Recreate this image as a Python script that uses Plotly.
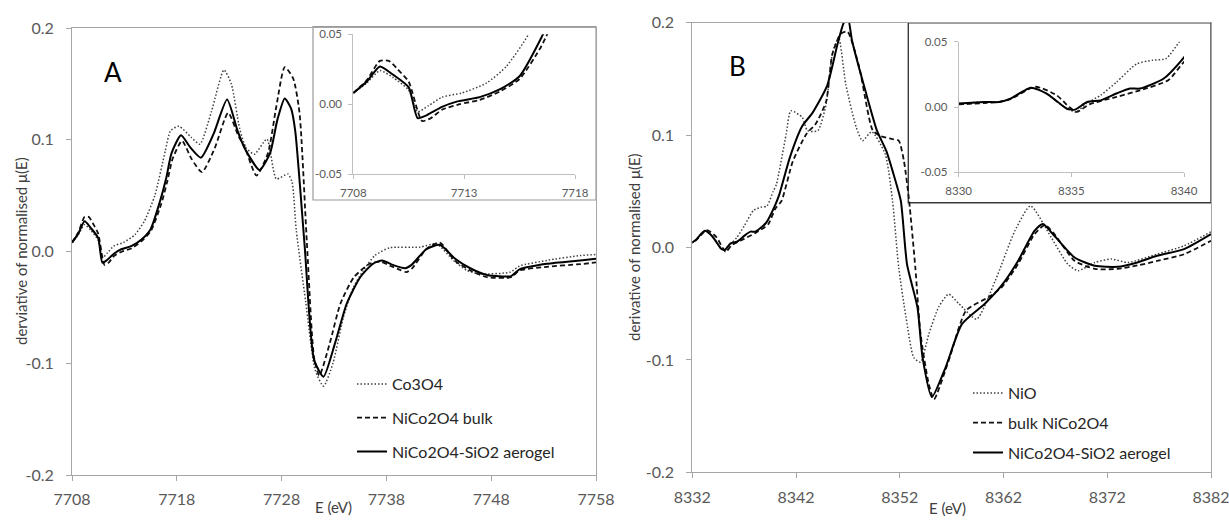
import plotly.graph_objects as go

# ---------------- Panel A data (Co K-edge) ----------------
A_co3o4_E = [7708, 7708.6, 7709.2, 7709.8, 7710.5, 7710.9, 7711.4, 7712.0, 7712.9, 7714.0, 7714.9, 7715.9,
             7716.9, 7717.4, 7718.2, 7719.4, 7720.2, 7721.3, 7722.5, 7723.2, 7724.0, 7724.6, 7725.4, 7726.6,
             7727.5, 7728.6, 7729.0, 7729.4, 7730.3, 7731.2, 7732.0, 7732.9, 7733.9, 7734.85, 7735.8, 7736.9,
             7738.3, 7741.2, 7742.8, 7744.4, 7745.7, 7746.9, 7749.8, 7750.7, 7753.3, 7756.5, 7758]
A_co3o4_v = [0.008, 0.015, 0.024, 0.019, 0.010, -0.0055, -0.001, 0.005, 0.008, 0.015, 0.027, 0.050,
             0.090, 0.108, 0.112, 0.102, 0.096, 0.125, 0.1625, 0.150, 0.110, 0.093, 0.087, 0.1006,
             0.065, 0.0694, 0.062, 0.019, -0.045, -0.106, -0.1205, -0.100, -0.0587, -0.032, -0.017, -0.0036,
             0.0033, 0.0039, 0.0068, -0.008, -0.017, -0.020, -0.0185, -0.013, -0.008, -0.0036, -0.0027]

A_bulk_E = [7708, 7708.6, 7709.2, 7709.6, 7710.0, 7710.5, 7711.1, 7711.5, 7712.0, 7712.8, 7713.7, 7714.6,
            7715.5, 7716.5, 7717.1, 7717.6, 7718.5, 7719.4, 7720.4, 7721.6, 7722.9, 7723.9, 7724.5, 7725.6,
            7726.7, 7727.5, 7728.3, 7729.1, 7729.7, 7730.4, 7731.1, 7731.6, 7732.6, 7733.6, 7734.9, 7736.4,
            7737.4, 7738.4, 7739.3, 7739.9, 7740.5, 7741.8, 7743.1, 7744.5, 7746.0, 7747.6, 7749.9, 7750.7,
            7753.3, 7756.5, 7758]
A_bulk_v = [0.008, 0.017, 0.031, 0.031, 0.025, 0.016, -0.012, -0.010, -0.004, 0.000, 0.003, 0.009,
            0.018, 0.042, 0.063, 0.083, 0.099, 0.083, 0.071, 0.092, 0.124, 0.103, 0.093, 0.068,
            0.088, 0.130, 0.165, 0.155, 0.125, 0.010, -0.095, -0.111, -0.082, -0.047, -0.023, -0.011,
            -0.009, -0.013, -0.0164, -0.0185, -0.0146, 0.002, 0.008, -0.008, -0.017, -0.023, -0.023, -0.017,
            -0.0137, -0.0113, -0.0098]

A_aero_E = [7708, 7708.6, 7709.2, 7709.8, 7710.5, 7710.9, 7711.3, 7712.0, 7712.7, 7713.7, 7714.6, 7715.5,
            7716.4, 7717.0, 7717.5, 7718.4, 7719.3, 7720.3, 7721.5, 7722.8, 7723.8, 7724.5, 7725.9, 7726.9,
            7727.6, 7728.3, 7728.9, 7729.3, 7730.2, 7731.1, 7732.0, 7733.1, 7734.2, 7735.5, 7736.7, 7737.6,
            7738.6, 7739.8, 7740.4, 7741.8, 7743.1, 7744.5, 7746.0, 7747.6, 7749.9, 7750.7, 7753.3, 7756.5, 7758]
A_aero_v = [0.008, 0.016, 0.027, 0.021, 0.012, -0.010, -0.008, -0.002, 0.002, 0.005, 0.0105, 0.020,
            0.045, 0.066, 0.088, 0.104, 0.093, 0.084, 0.105, 0.136, 0.108, 0.092, 0.073, 0.088,
            0.118, 0.137, 0.128, 0.108, 0.005, -0.097, -0.112, -0.082, -0.047, -0.023, -0.011, -0.008,
            -0.012, -0.015, -0.012, 0.002, 0.006, -0.006, -0.015, -0.021, -0.022, -0.016, -0.011, -0.008, -0.0065]

# ---------------- Panel B data (Ni K-edge) ----------------
B_nio_E = [8330, 8331.1, 8331.8, 8332.3, 8333.2, 8333.9, 8334.4, 8334.8, 8335.2, 8335.7, 8336.3, 8337.0,
           8337.9, 8338.6, 8339.2, 8339.8, 8340.1, 8341.05, 8341.5, 8342.6, 8343.1, 8344.1, 8344.9, 8345.5,
           8346.1, 8346.8, 8347.8, 8348.4, 8349.3, 8350.6, 8351.3, 8351.9, 8352.6, 8353.35, 8354.0, 8354.8,
           8355.75, 8356.7, 8357.7, 8359.4, 8361.2, 8363.1, 8364.6, 8366.6, 8368.2, 8369.2, 8370.8, 8372.4,
           8374.0, 8376.8, 8379.4, 8382]
B_nio_v = [0.0026, 0.0038, 0.0038, 0.0064, 0.0148, 0.0103, 0.0038, -0.001, -0.0038, 0.003, 0.009, 0.019,
           0.033, 0.0358, 0.037, 0.050, 0.056, 0.101, 0.1216, 0.1157, 0.104, 0.104, 0.1276, 0.172,
           0.187, 0.145, 0.107, 0.095, 0.103, 0.083, 0.0415, -0.018, -0.062, -0.098, -0.102, -0.077,
           -0.053, -0.0415, -0.050, -0.0637, -0.0296, 0.0149, 0.037, 0.0089, -0.0148, -0.0207, -0.0133, -0.0103,
           -0.0133, -0.0059, 0.0015, 0.014]

B_bulk_E = [8330, 8331.1, 8331.8, 8332.3, 8333.4, 8334.35, 8334.9, 8335.24, 8335.8, 8337.0, 8338.05, 8339.3,
            8340.0, 8340.6, 8341.7, 8343.0, 8343.9, 8344.9, 8345.5, 8346.3, 8346.96, 8348.1, 8349.4, 8350.2,
            8351.3, 8351.9, 8352.4, 8352.9, 8353.5, 8354.0, 8354.8, 8355.3, 8356.7, 8358.4, 8360.5, 8361.8,
            8363.4, 8365.0, 8366.0, 8366.9, 8368.85, 8370.8, 8373.0, 8374.9, 8376.8, 8379.4, 8382]
B_bulk_v = [0.002, 0.003, 0.004, 0.006, 0.0155, 0.009, 0.000, -0.0038, 0.002, 0.0077, 0.0128, 0.0205,
            0.0345, 0.0415, 0.077, 0.101, 0.110, 0.130, 0.172, 0.190, 0.192, 0.160, 0.104, 0.099,
            0.0965, 0.095, 0.077, 0.0415, -0.018, -0.077, -0.1216, -0.135, -0.101, -0.056, -0.0445, -0.0356,
            -0.0148, 0.012, 0.020, 0.012, -0.0118, -0.019, -0.019, -0.016, -0.012, -0.006, 0.006]

B_aero_E = [8330, 8331.1, 8331.8, 8332.3, 8333.2, 8333.9, 8334.4, 8334.8, 8335.16, 8335.7, 8336.3, 8337.0,
            8337.6, 8338.05, 8339.1, 8340.0, 8340.4, 8341.4, 8342.6, 8343.6, 8345.0, 8346.0, 8346.6, 8347.0,
            8347.4, 8348.7, 8349.8, 8350.7, 8351.5, 8352.1, 8352.7, 8353.7, 8354.2, 8355.1, 8356.4, 8358.0,
            8360.2, 8361.8, 8363.4, 8365.0, 8365.8, 8366.9, 8368.85, 8370.8, 8373.0, 8374.9, 8376.8, 8379.4, 8382]
B_aero_v = [0.0026, 0.0038, 0.0038, 0.0064, 0.0148, 0.0103, 0.0038, -0.0013, -0.002, 0.0038, 0.0051, 0.0103,
            0.0141, 0.0141, 0.0218, 0.038, 0.0475, 0.080, 0.108, 0.120, 0.144, 0.181, 0.200, 0.204,
            0.184, 0.139, 0.104, 0.086, 0.062, 0.0415, -0.015, -0.053, -0.098, -0.133, -0.107, -0.068,
            -0.050, -0.034, -0.012, 0.015, 0.021, 0.0104, -0.0089, -0.0163, -0.0172, -0.0133, -0.0074, -0.0014, 0.012]

# ---------------- tick labels ----------------
A_xticks = [7708, 7718, 7728, 7738, 7748, 7758]
B_xticks = [8332, 8342, 8352, 8362, 8372, 8382]
main_yticks = [-0.2, -0.1, 0.0, 0.1, 0.2]
main_ytext = ["-0.2", "-0.1", "0.0", "0.1", "0.2"]
Ain_xticks = [7708, 7713, 7718]
Bin_xticks = [8330, 8335, 8340]
in_yticks = [-0.05, 0.0, 0.05]
in_ytext = ["-0.05", "0.00", "0.05"]

A_names = ["Co3O4", "NiCo2O4 bulk", "NiCo2O4-SiO2 aerogel"]
B_names = ["NiO", "bulk NiCo2O4", "NiCo2O4-SiO2 aerogel"]

W, H = 1229, 520
def px(x):
    return x / W
def py(y):
    return 1 - y / H

FONT = "Lato, 'Open Sans', sans-serif"
styles = [dict(color="#404040", width=1.5, dash="1.5px,2px"),
          dict(color="#111111", width=1.8, dash="5px,3px"),
          dict(color="#000000", width=2.0, dash="solid")]

fig = go.Figure()

A_series = [(A_co3o4_E, A_co3o4_v), (A_bulk_E, A_bulk_v), (A_aero_E, A_aero_v)]
B_series = [(B_nio_E, B_nio_v), (B_bulk_E, B_bulk_v), (B_aero_E, B_aero_v)]

for i, (e, v) in enumerate(A_series):
    fig.add_trace(go.Scatter(x=e, y=v, mode="lines", name=A_names[i], line=styles[i], line_shape="spline",
                             line_smoothing=0.6, xaxis="x", yaxis="y", legend="legend",
                             legendgroup="a%d" % i))
for i, (e, v) in enumerate(A_series):
    fig.add_trace(go.Scatter(x=e, y=v, mode="lines", showlegend=False, line=styles[i], line_shape="spline",
                             line_smoothing=0.6, xaxis="x2", yaxis="y2"))
for i, (e, v) in enumerate(B_series):
    fig.add_trace(go.Scatter(x=e, y=v, mode="lines", name=B_names[i], line=styles[i], line_shape="spline",
                             line_smoothing=0.6, xaxis="x3", yaxis="y3", legend="legend2",
                             legendgroup="b%d" % i))
for i, (e, v) in enumerate(B_series):
    fig.add_trace(go.Scatter(x=e, y=v, mode="lines", showlegend=False, line=styles[i], line_shape="spline",
                             line_smoothing=0.6, xaxis="x4", yaxis="y4"))

AX = "#a6a6a6"
TICKF = dict(family=FONT, size=16, color="#595959")
INF = dict(family=FONT, size=11.5, color="#595959")

def main_x(dom, ticks, anchor):
    return dict(domain=dom, range=[ticks[0], ticks[-1]], anchor=anchor, showgrid=False, zeroline=False,
                showline=True, mirror=True, linecolor=AX, linewidth=1, ticks="outside", ticklen=5,
                tickcolor=AX, tickvals=ticks, ticktext=[str(t) for t in ticks], tickfont=TICKF,
                ticklabelstandoff=5, automargin=False, ticklabeloverflow="allow")

def main_y(dom, anchor):
    return dict(domain=dom, range=[-0.2, 0.2], anchor=anchor, showgrid=False, zeroline=False,
                showline=True, mirror=True, linecolor=AX, linewidth=1, ticks="outside", ticklen=5,
                tickcolor=AX, tickvals=main_yticks, ticktext=main_ytext, tickfont=TICKF,
                ticklabelstandoff=9, automargin=False, ticklabeloverflow="allow")

def in_x(dom, ticks, anchor):
    return dict(domain=dom, range=[ticks[0], ticks[-1]], anchor=anchor, showgrid=False, zeroline=False,
                showline=True, linecolor="#bfbfbf", linewidth=1, ticks="outside", ticklen=4,
                tickcolor="#bfbfbf", tickvals=ticks, ticktext=[str(t) for t in ticks], tickfont=INF,
                ticklabelstandoff=4, automargin=False, ticklabeloverflow="allow")

def in_y(dom, anchor):
    return dict(domain=dom, range=[-0.05, 0.05], anchor=anchor, showgrid=False, zeroline=False,
                showline=True, linecolor="#bfbfbf", linewidth=1, ticks="outside", ticklen=4,
                tickcolor="#bfbfbf", tickvals=in_yticks, ticktext=in_ytext, tickfont=INF,
                ticklabelstandoff=4, automargin=False, ticklabeloverflow="allow")

def note(text, x, y, size, angle=0):
    return dict(text=text, x=px(x), y=py(y), xref="paper", yref="paper", showarrow=False,
                xanchor="center", yanchor="middle", textangle=angle,
                font=dict(family=FONT, size=size, color="#000" if size > 20 else "#404040"))

fig.update_layout(
    width=W, height=H, margin=dict(l=0, r=0, t=0, b=0, autoexpand=False),
    paper_bgcolor="white", plot_bgcolor="white",
    font=dict(family=FONT, color="#404040"),
    xaxis=main_x([px(72), px(596)], A_xticks, "y"),
    yaxis=main_y([py(475), py(28)], "x"),
    xaxis2=in_x([px(353.3), px(575)], Ain_xticks, "y2"),
    yaxis2=in_y([py(174), py(34.3)], "x2"),
    xaxis3=main_x([px(692.3), px(1211)], B_xticks, "y3"),
    yaxis3=main_y([py(472.3), py(22.7)], "x3"),
    xaxis4=in_x([px(958.7), px(1184)], Bin_xticks, "y4"),
    yaxis4=in_y([py(172.3), py(41.7)], "x4"),
    legend=dict(x=px(352), y=py(367), xanchor="left", yanchor="top", bgcolor="rgba(0,0,0,0)",
                font=dict(family=FONT, size=16, color="#262626"), traceorder="grouped", tracegroupgap=10),
    legend2=dict(x=px(968), y=py(376), xanchor="left", yanchor="top", bgcolor="rgba(0,0,0,0)",
                 font=dict(family=FONT, size=16, color="#262626"), traceorder="grouped", tracegroupgap=6),
    shapes=[
        dict(type="rect", xref="paper", yref="paper", x0=px(313), x1=px(596), y0=py(200), y1=py(26.7),
             line=dict(color="#9a9a9a", width=1.2), layer="below"),
        dict(type="rect", xref="paper", yref="paper", x0=px(908.3), x1=px(1211), y0=py(202.7), y1=py(22.7),
             line=dict(color="#3a3a3a", width=1.4), layer="below"),
    ],
    annotations=[
        note("A", 112.5, 72, 26),
        note("B", 737, 66, 26),
        note("derviative of normalised μ(E)", 21, 251, 15, -90),
        note("derivative of normalised μ(E)", 634, 247, 15, -90),
        note("E (eV)", 333, 507, 15),
        note("E (eV)", 947, 508, 15),
    ],
)

fig.write_html("out.html", config={"displayModeBar": False},
               post_script="document.body.style.margin='0';document.body.style.padding='0';"
                           "document.body.style.overflow='hidden';")
